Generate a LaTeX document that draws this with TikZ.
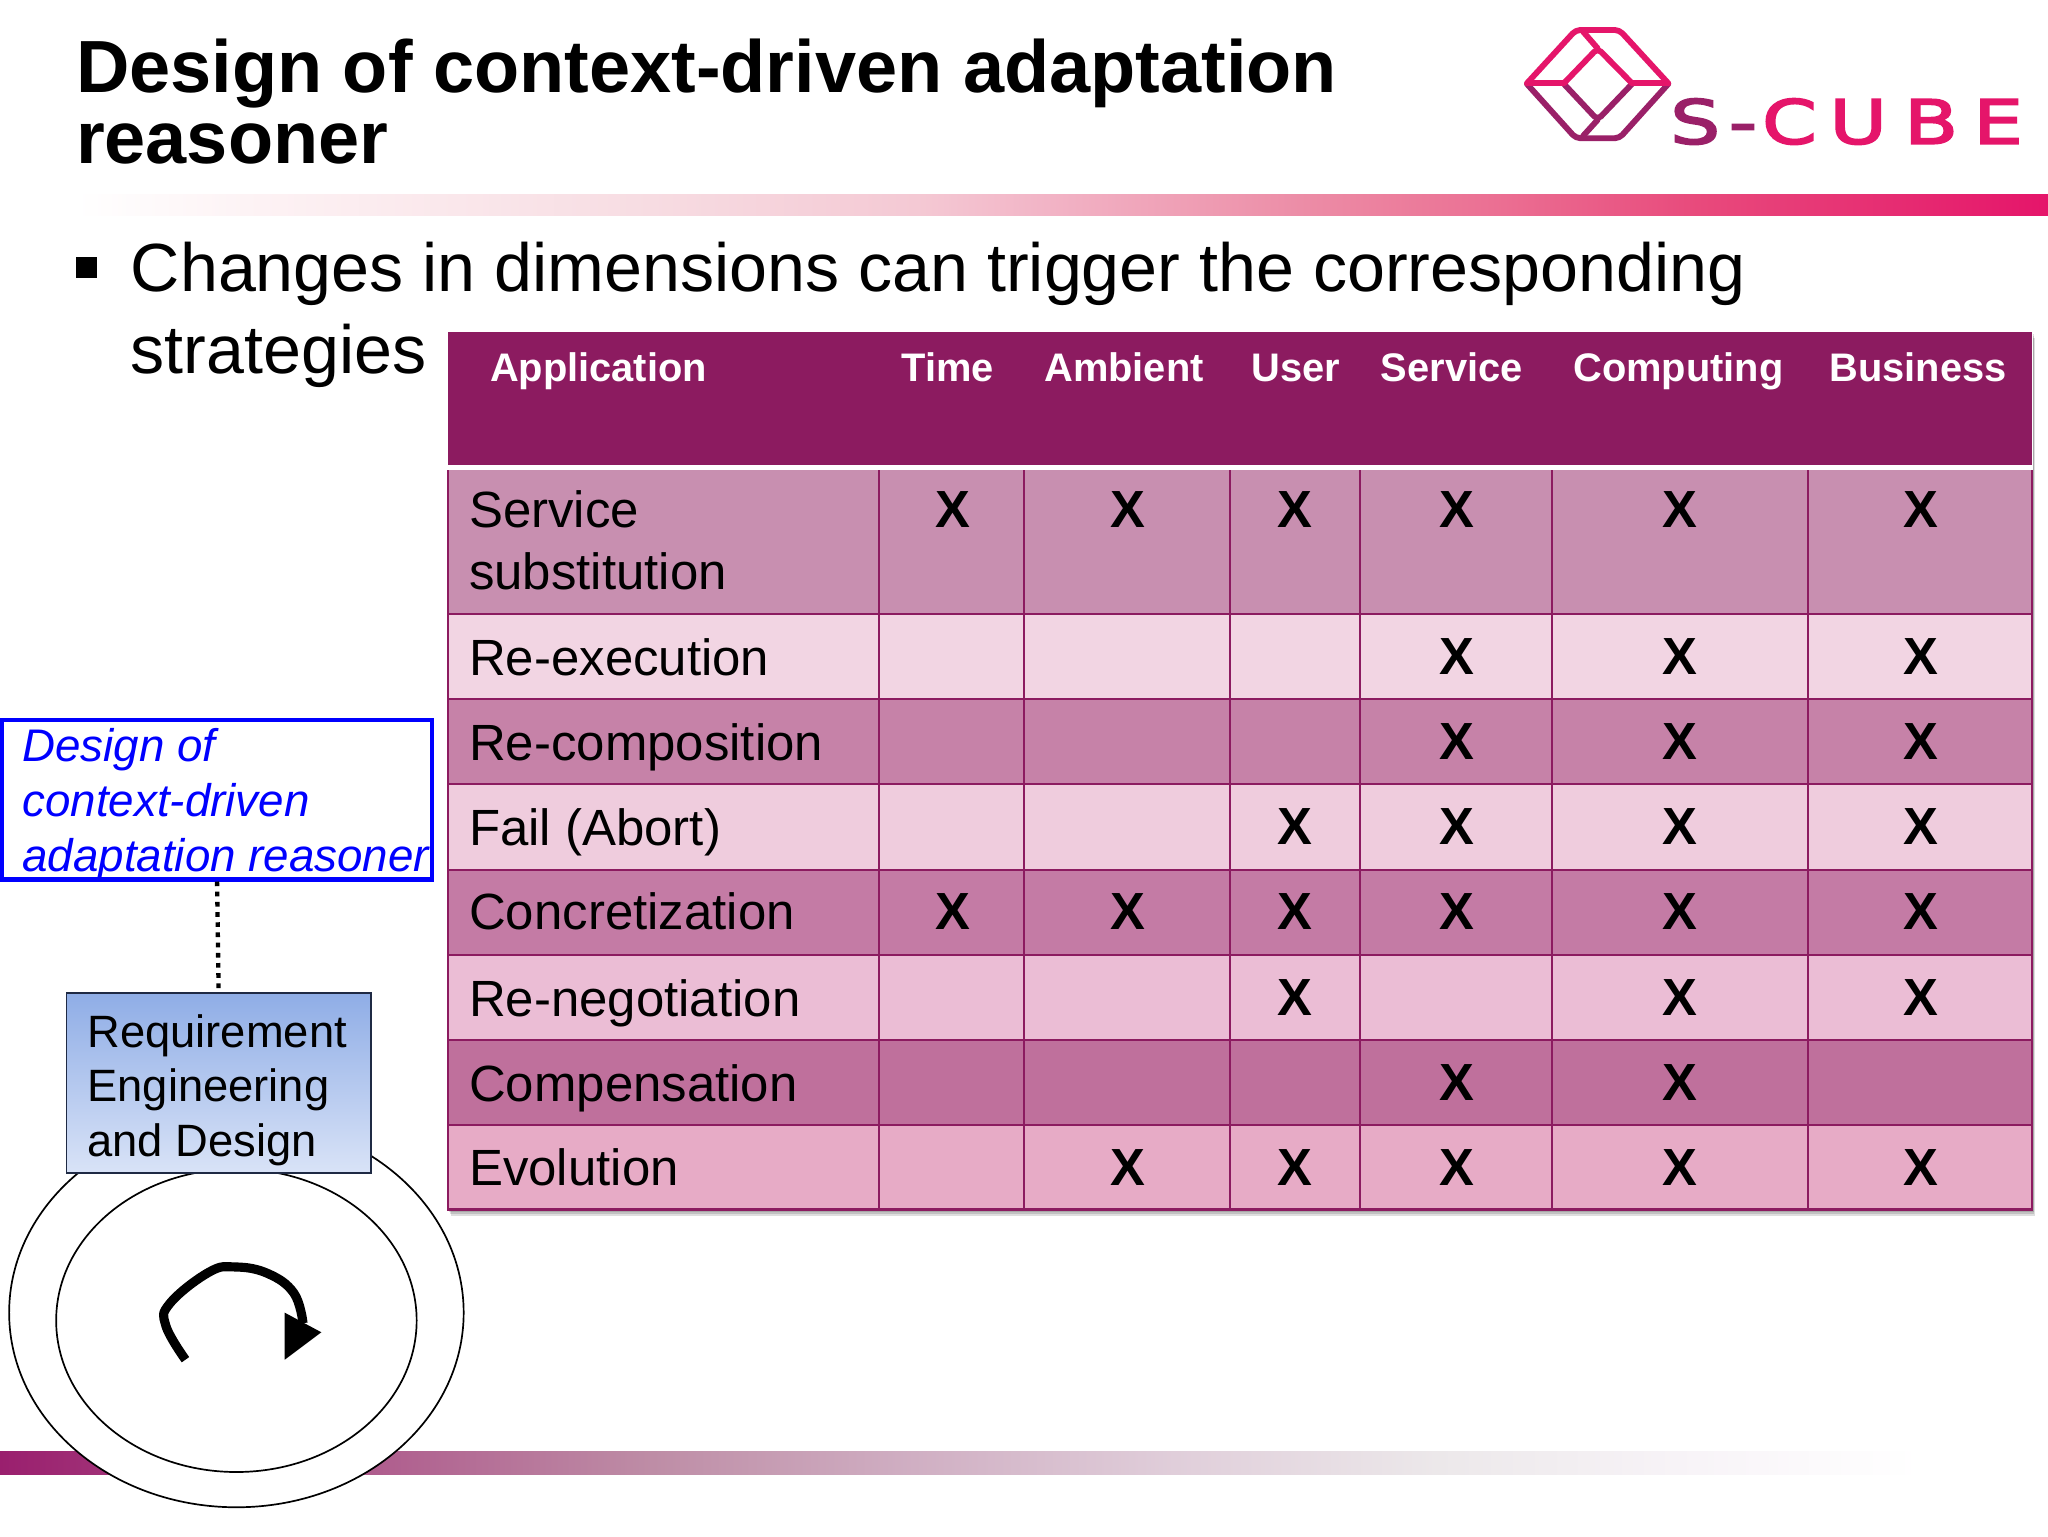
\documentclass[tikz,border=0pt]{standalone}
\usepackage{fontspec}
\setmainfont{Liberation Sans}
\newfontface\logofont[FakeBold=3,FakeStretch=1.3]{DejaVu Sans}
\usetikzlibrary{calc}
\definecolor{hdr}{HTML}{8C1B60}
\definecolor{logoP}{HTML}{E5156A}
\definecolor{logoV}{HTML}{9A2068}
\definecolor{rowA}{HTML}{C88FB0}
\definecolor{rowB}{HTML}{F2D5E3}
\definecolor{rowC}{HTML}{C682A8}
\definecolor{rowD}{HTML}{EFCCDD}
\definecolor{rowE}{HTML}{C47BA5}
\definecolor{rowF}{HTML}{EBBDD5}
\definecolor{rowG}{HTML}{BF709C}
\definecolor{rowH}{HTML}{E7ABC6}
\definecolor{reqTop}{HTML}{8FADE6}
\definecolor{reqBot}{HTML}{D9E3F7}
\definecolor{reqLine}{HTML}{1F2A44}
\definecolor{tA}{HTML}{FDF2F4}
\definecolor{tB}{HTML}{F7DCE2}
\definecolor{tC}{HTML}{F4C9D4}
\definecolor{tD}{HTML}{F2B4C6}
\definecolor{tE}{HTML}{EC8CA6}
\definecolor{tF}{HTML}{EB6E92}
\definecolor{tG}{HTML}{E84A7C}
\definecolor{bA}{HTML}{9A1F6E}
\definecolor{bB}{HTML}{B0608F}
\definecolor{bC}{HTML}{BE8DA6}
\definecolor{bD}{HTML}{D0AFC3}
\definecolor{bE}{HTML}{E0CEDA}
\definecolor{bF}{HTML}{ECE8EA}
\definecolor{bG}{HTML}{F8F4F8}
\pgfdeclarehorizontalshading{topbar}{100bp}{color(0bp)=(white); color(25bp)=(white); color(29.7bp)=(tA); color(39.6bp)=(tB); color(46.3bp)=(tC); color(49.6bp)=(tD); color(56.2bp)=(tE); color(61.2bp)=(tF); color(66.1bp)=(tG); color(75bp)=(logoP); color(100bp)=(logoP)}
\pgfdeclarehorizontalshading{lowbar}{100bp}{color(0bp)=(bA); color(25bp)=(bA); color(35.2bp)=(bB); color(42bp)=(bC); color(48.8bp)=(bD); color(55.6bp)=(bE); color(62.4bp)=(bF); color(69.2bp)=(bG); color(75bp)=(white); color(100bp)=(white)}
\newcommand{\fsz}[2]{\fontsize{#1}{#2}\selectfont}
% width, height, left offset, first baseline offset, lines
\newcommand{\boxtext}[5]{\vbox to #2pt{\vskip #4pt\hbox to #1pt{\hskip #3pt\smash{\vtop{#5}}\hss}\vss}}
\tikzset{
  cellstyle/.style={anchor=base west,inner sep=0pt,font=\fsz{39}{47},text=black},
  headstyle/.style={anchor=base,inner sep=0pt,font=\bfseries\fsz{30.5}{36},text=white},
  xmark/.style={inner sep=0pt,font=\bfseries\fsz{40}{47},text=black},
  gridline/.style={draw=hdr,line width=1.6pt},
  ringstyle/.style={draw=black,fill=white,line width=1.3pt},
  leadstyle/.style={anchor=base west,inner sep=0pt,text=black},
  logoline/.style={line width=4.5pt,line join=round,line cap=round,rounded corners=3.5pt}
}
\begin{document}
\begin{tikzpicture}[x=1pt,y=-1pt]
\useasboundingbox (0,0) rectangle (1568,1176);
\fill[white] (0,0) rectangle (1568,1176);
% bars
\shade[shading=topbar] (58,149) rectangle (1568,165);
\shade[shading=lowbar] (0,1111) rectangle (1470,1129);
% title
\node[leadstyle] (title) at (58,71) {\vtop{\bfseries\fsz{56.6}{54.5}\hbox{Design of context-driven adaptation}\hbox{reasoner}}};
% bullet
\fill[black] (58,197) rectangle (74,213);
\node[leadstyle] (bullet) at (100,223) {\vtop{\fsz{52.2}{63}\hbox{Changes in dimensions can trigger the corresponding}\hbox{strategies}}};
% logo
\begin{scope}[shift={(1133,0)},x=0.2774pt,y=-0.255pt]
  \draw[logoline,logoV] (130,252) -- (265,415) -- (385,415) -- (520,252);
  \draw[logoline,logoV] (232,252) -- (325,360) -- (420,252);
  \draw[logoline,logoV] (325,360) -- (285,408);
  \draw[logoline,logoP] (130,250) -- (265,90) -- (385,90) -- (520,250);
  \draw[logoline,logoP] (232,250) -- (325,145) -- (420,250);
  \draw[logoline,logoP] (285,95) -- (325,145);
  \draw[line width=4.5pt,logoP] (130,250) -- (232,250) (420,250) -- (520,250);
\end{scope}
\node[leadstyle] (logotext) at (1278.5,110) {\logofont\fsz{46.5}{50}\color{logoV}S\hspace{6.5pt}-\hspace{3.6pt}\color{logoP}C\hspace{9.4pt}U\hspace{13pt}B\hspace{11.5pt}E};
% table
\foreach \dx/\dy in {2/5,1.5/3.5,1/2}{ \fill[black,opacity=.13] (343+\dx,254+\dy) rectangle (1556+\dx,926+\dy); }
\node[rectangle,inner sep=0pt,anchor=north west,minimum width=1213pt,minimum height=672pt,fill=white] (tbl) at (343,254) {};
\fill[hdr] (343,254) rectangle (1556,356);
\foreach \top/\bot/\c in {360/470/rowA,470/535/rowB,535/600/rowC,600/666/rowD,666/731/rowE,731/796/rowF,796/861/rowG,861/926/rowH}{
  \fill[\c] (343,\top) rectangle (1556,\bot);
}
\foreach \yy in {470,535,600,666,731,796,861}{ \draw[gridline] (343,\yy) -- (1556,\yy); }
\foreach \xx in {673,784,942,1041,1188,1384}{ \draw[gridline] (\xx,360) -- (\xx,926); }
\draw[hdr,line width=1.6pt] (343,360) -- (343,926) -- (1556,926) -- (1556,360);
% header
\node[anchor=base west,inner sep=0pt,font=\bfseries\fsz{30.5}{36},text=white] (h0) at (375,292) {Application};
\foreach \n/\xx/\t in {1/725.5/Time,2/860.5/Ambient,3/992/User,4/1111.5/Service,5/1285/Computing,6/1468.5/Business}{
  \node[headstyle] (h\n) at (\xx,292) {\t};
}
% row labels
\node[cellstyle] (r1) at (359,404) {\vtop{\hbox{Service}\hbox{substitution}}};
\foreach \n/\yy/\t in {2/517/Re-execution,3/582/Re-composition,4/647/Fail (Abort),5/712/Concretization,6/778/Re-negotiation,7/843/Compensation,8/908/Evolution}{
  \node[cellstyle] (r\n) at (359,\yy) {\t};
}
% X marks
\foreach \rr/\yy/\cols in {1/390/{1,2,3,4,5,6},2/503/{4,5,6},3/568/{4,5,6},4/633/{3,4,5,6},5/698/{1,2,3,4,5,6},6/764/{3,5,6},7/829/{4,5},8/894/{2,3,4,5,6}}{
  \foreach \cc in \cols {
    \ifcase\cc\or\def\xx{729.5}\or\def\xx{863.5}\or\def\xx{991.5}\or\def\xx{1115.5}\or\def\xx{1286.5}\or\def\xx{1470.5}\fi
    \node[xmark] (x\rr-\cc) at (\xx,\yy) {X};
  }
}
% rings
\draw[ringstyle] (181,1005) ellipse [x radius=174,y radius=149];
\draw[ringstyle] (181,1011) ellipse [x radius=138,y radius=116];
% loop arrow
\draw[line width=7pt,line join=round,black] plot[smooth,tension=.7] coordinates {(142,1041) (127,1015) (130,998) (160,974) (180,970) (205,975) (225,990) (232,1013)};
\fill[black] (218,1005) -- (246,1020) -- (218,1041) -- cycle;
% boxes
\node[rectangle,draw=blue,line width=3.4pt,fill=white,inner sep=0pt,anchor=north west,text=blue] (design) at (0,549.5) {\boxtext{329}{122}{15.5}{32}{\itshape\fsz{35}{42}\hbox{Design of}\hbox{context-driven}\hbox{adaptation reasoner}}};
\node[rectangle,draw=reqLine,line width=1.4pt,top color=reqTop,bottom color=reqBot,inner sep=0pt,anchor=north west] (req) at (50.2,759.5) {\boxtext{233}{138}{16}{41.5}{\fsz{34.7}{42}\hbox{Requirement}\hbox{Engineering}\hbox{and Design}}};
\draw[black,line width=3.3pt,dash pattern=on 3.6pt off 4.2pt] (design.south) -- (req.north);
\end{tikzpicture}
\end{document}
